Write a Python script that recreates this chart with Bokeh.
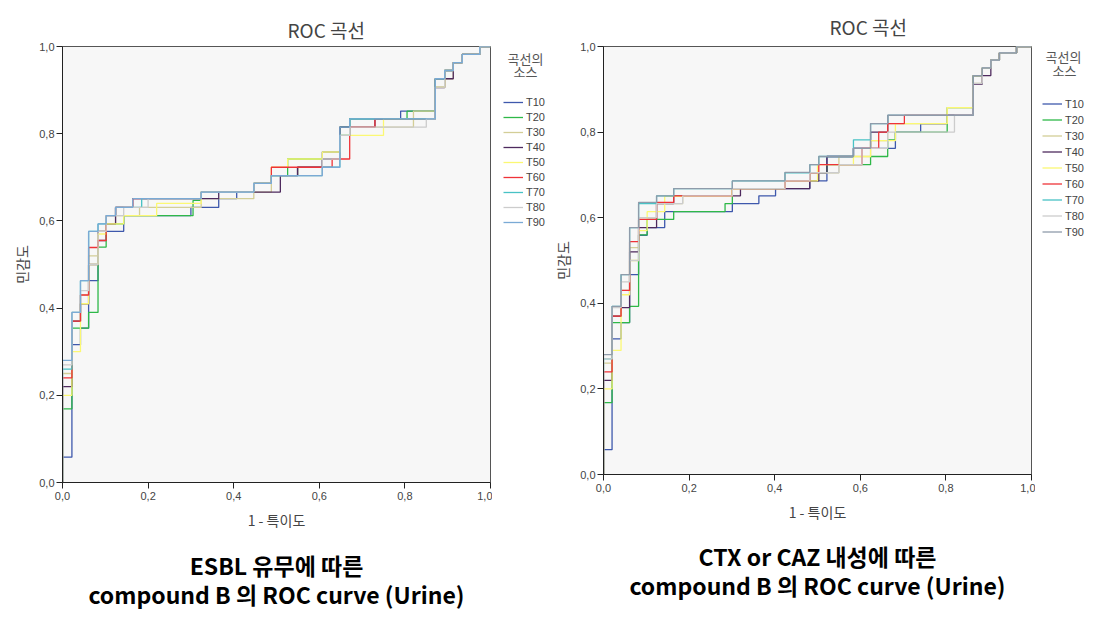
from bokeh.plotting import figure
from bokeh.layouts import row
from bokeh.models import (Legend, LegendItem, FixedTicker, CustomJSTickFormatter, Range1d,
                          LinearAxis, Label)
from bokeh.embed import file_html
from bokeh.resources import INLINE

series_names = ["T10", "T20", "T30", "T40", "T50", "T60", "T70", "T80", "T90"]
tick_values = [0.0, 0.2, 0.4, 0.6, 0.8, 1.0]

colors_left = ["#3E58AC", "#2EB848", "#D3CE97", "#4E2A5E", "#FBF873",
               "#EF3338", "#48C2C5", "#CCCCCC", "#7AAAD5"]
colors_right = ["#3E58AC", "#2EB848", "#D3CE97", "#4E2A5E", "#FBF873",
                "#EF3338", "#48C2C5", "#CCCCCC", "#8E9BAA"]

# ---- Left chart: ESBL (ROC points: fpr, tpr) ----
L_T10_fpr = [0, 0, 0.022, 0.042, 0.061, 0.083, 0.102, 0.143, 0.30, 0.365, 0.407, 0.447, 0.488, 0.55, 0.607, 0.648, 0.671, 0.79, 0.871, 0.893, 0.913, 0.934, 0.975, 1]
L_T10_tpr = [0, 0.058, 0.316, 0.354, 0.463, 0.555, 0.576, 0.612, 0.631, 0.651, 0.666, 0.686, 0.704, 0.723, 0.758, 0.815, 0.834, 0.852, 0.926, 0.945, 0.963, 0.982, 1, 1]
L_T20_fpr = [0, 0, 0.022, 0.061, 0.083, 0.102, 0.143, 0.305, 0.324, 0.447, 0.488, 0.526, 0.648, 0.671, 0.805, 0.871, 0.893, 0.913, 0.934, 0.975, 1]
L_T20_tpr = [0, 0.169, 0.354, 0.39, 0.54, 0.593, 0.612, 0.647, 0.666, 0.686, 0.704, 0.742, 0.815, 0.834, 0.852, 0.926, 0.945, 0.963, 0.982, 1, 1]
L_T30_fpr = [0, 0, 0.022, 0.042, 0.061, 0.083, 0.102, 0.124, 0.18, 0.324, 0.447, 0.488, 0.55, 0.607, 0.648, 0.671, 0.82, 0.871, 0.893, 0.913, 0.934, 0.975, 1]
L_T30_tpr = [0, 0.25, 0.37, 0.43, 0.52, 0.576, 0.593, 0.612, 0.631, 0.651, 0.666, 0.704, 0.723, 0.742, 0.796, 0.815, 0.852, 0.907, 0.926, 0.963, 0.982, 1, 1]
L_T40_fpr = [0, 0, 0.022, 0.042, 0.061, 0.083, 0.102, 0.124, 0.164, 0.365, 0.509, 0.549, 0.607, 0.648, 0.73, 0.871, 0.893, 0.913, 0.934, 0.975, 1]
L_T40_tpr = [0, 0.22, 0.37, 0.41, 0.5, 0.576, 0.593, 0.631, 0.651, 0.666, 0.704, 0.723, 0.742, 0.815, 0.834, 0.906, 0.926, 0.963, 0.982, 1, 1]
L_T50_fpr = [0, 0, 0.022, 0.042, 0.061, 0.083, 0.102, 0.143, 0.22, 0.324, 0.447, 0.488, 0.526, 0.607, 0.648, 0.75, 0.871, 0.893, 0.913, 0.934, 0.975, 1]
L_T50_tpr = [0, 0.20, 0.30, 0.41, 0.50, 0.57, 0.593, 0.612, 0.64, 0.666, 0.686, 0.723, 0.742, 0.758, 0.796, 0.834, 0.907, 0.945, 0.963, 0.982, 1, 1]
L_T60_fpr = [0, 0, 0.022, 0.042, 0.061, 0.083, 0.102, 0.124, 0.164, 0.324, 0.447, 0.488, 0.63, 0.671, 0.73, 0.871, 0.893, 0.913, 0.934, 0.975, 1]
L_T60_tpr = [0, 0.24, 0.37, 0.43, 0.539, 0.555, 0.612, 0.631, 0.651, 0.666, 0.686, 0.723, 0.742, 0.815, 0.834, 0.926, 0.945, 0.963, 0.982, 1, 1]
L_T70_fpr = [0, 0, 0.022, 0.042, 0.061, 0.083, 0.102, 0.124, 0.185, 0.324, 0.447, 0.488, 0.607, 0.648, 0.671, 0.871, 0.893, 0.913, 0.934, 0.975, 1]
L_T70_tpr = [0, 0.26, 0.39, 0.463, 0.576, 0.593, 0.612, 0.631, 0.651, 0.666, 0.686, 0.704, 0.723, 0.796, 0.834, 0.926, 0.945, 0.963, 0.982, 1, 1]
L_T80_fpr = [0, 0, 0.022, 0.042, 0.061, 0.083, 0.102, 0.143, 0.2, 0.324, 0.447, 0.488, 0.607, 0.648, 0.671, 0.85, 0.871, 0.893, 0.913, 0.934, 0.975, 1]
L_T80_tpr = [0, 0.27, 0.39, 0.44, 0.50, 0.576, 0.612, 0.631, 0.651, 0.666, 0.686, 0.704, 0.742, 0.796, 0.815, 0.834, 0.907, 0.945, 0.963, 0.982, 1, 1]
L_T90_fpr = [0, 0, 0.022, 0.042, 0.061, 0.083, 0.102, 0.124, 0.164, 0.324, 0.447, 0.488, 0.607, 0.648, 0.671, 0.871, 0.893, 0.913, 0.934, 0.975, 1]
L_T90_tpr = [0, 0.28, 0.39, 0.463, 0.576, 0.593, 0.612, 0.631, 0.651, 0.666, 0.686, 0.704, 0.723, 0.815, 0.834, 0.926, 0.945, 0.963, 0.982, 1, 1]

# ---- Right chart: CTX or CAZ ----
R_T10_fpr = [0, 0, 0.02, 0.041, 0.061, 0.082, 0.102, 0.143, 0.301, 0.363, 0.402, 0.482, 0.522, 0.584, 0.682, 0.741, 0.803, 0.864, 0.885, 0.905, 0.925, 0.965, 1]
R_T10_tpr = [0, 0.058, 0.317, 0.355, 0.467, 0.559, 0.577, 0.614, 0.633, 0.651, 0.668, 0.686, 0.743, 0.762, 0.80, 0.819, 0.839, 0.932, 0.95, 0.968, 0.985, 1, 1]
R_T20_fpr = [0, 0, 0.02, 0.061, 0.082, 0.102, 0.164, 0.284, 0.301, 0.424, 0.482, 0.522, 0.624, 0.664, 0.682, 0.803, 0.864, 0.885, 0.905, 0.925, 0.965, 1]
R_T20_tpr = [0, 0.168, 0.355, 0.393, 0.56, 0.596, 0.614, 0.633, 0.668, 0.686, 0.705, 0.724, 0.743, 0.782, 0.80, 0.857, 0.932, 0.95, 0.968, 0.985, 1, 1]
R_T30_fpr = [0, 0, 0.02, 0.041, 0.061, 0.082, 0.124, 0.185, 0.301, 0.424, 0.482, 0.55, 0.624, 0.664, 0.803, 0.864, 0.885, 0.905, 0.925, 0.965, 1]
R_T30_tpr = [0, 0.26, 0.37, 0.43, 0.53, 0.596, 0.633, 0.651, 0.668, 0.686, 0.705, 0.743, 0.78, 0.82, 0.857, 0.914, 0.95, 0.968, 0.985, 1, 1]
R_T40_fpr = [0, 0, 0.02, 0.041, 0.061, 0.082, 0.124, 0.164, 0.32, 0.482, 0.503, 0.522, 0.584, 0.624, 0.664, 0.864, 0.885, 0.905, 0.925, 0.965, 1]
R_T40_tpr = [0, 0.22, 0.37, 0.39, 0.52, 0.577, 0.633, 0.651, 0.668, 0.686, 0.705, 0.743, 0.762, 0.80, 0.839, 0.912, 0.932, 0.968, 0.985, 1, 1]
R_T50_fpr = [0, 0, 0.02, 0.041, 0.061, 0.082, 0.102, 0.143, 0.30, 0.424, 0.50, 0.584, 0.624, 0.682, 0.803, 0.864, 0.885, 0.905, 0.925, 0.965, 1]
R_T50_tpr = [0, 0.20, 0.29, 0.42, 0.50, 0.57, 0.614, 0.65, 0.668, 0.686, 0.724, 0.743, 0.78, 0.82, 0.857, 0.932, 0.95, 0.968, 0.985, 1, 1]
R_T60_fpr = [0, 0, 0.02, 0.041, 0.061, 0.082, 0.124, 0.164, 0.301, 0.424, 0.482, 0.503, 0.604, 0.643, 0.664, 0.703, 0.864, 0.885, 0.905, 0.925, 0.965, 1]
R_T60_tpr = [0, 0.24, 0.37, 0.43, 0.544, 0.596, 0.636, 0.651, 0.668, 0.686, 0.705, 0.724, 0.762, 0.80, 0.82, 0.839, 0.932, 0.95, 0.968, 0.985, 1, 1]
R_T70_fpr = [0, 0, 0.02, 0.041, 0.061, 0.082, 0.124, 0.164, 0.301, 0.424, 0.482, 0.503, 0.584, 0.624, 0.664, 0.864, 0.885, 0.905, 0.925, 0.965, 1]
R_T70_tpr = [0, 0.27, 0.393, 0.467, 0.577, 0.633, 0.651, 0.668, 0.686, 0.705, 0.724, 0.743, 0.782, 0.82, 0.839, 0.932, 0.95, 0.968, 0.985, 1, 1]
R_T80_fpr = [0, 0, 0.02, 0.041, 0.061, 0.082, 0.124, 0.185, 0.301, 0.424, 0.482, 0.55, 0.604, 0.664, 0.82, 0.864, 0.885, 0.905, 0.925, 0.965, 1]
R_T80_tpr = [0, 0.27, 0.39, 0.45, 0.50, 0.60, 0.633, 0.651, 0.668, 0.686, 0.705, 0.724, 0.762, 0.80, 0.839, 0.914, 0.95, 0.968, 0.985, 1, 1]
R_T90_fpr = [0, 0, 0.02, 0.041, 0.061, 0.082, 0.124, 0.164, 0.301, 0.424, 0.482, 0.503, 0.584, 0.624, 0.664, 0.864, 0.885, 0.905, 0.925, 0.965, 1]
R_T90_tpr = [0, 0.28, 0.393, 0.467, 0.577, 0.636, 0.651, 0.668, 0.686, 0.706, 0.724, 0.743, 0.762, 0.82, 0.839, 0.932, 0.95, 0.968, 0.985, 1, 1]

left_series = [(L_T10_fpr, L_T10_tpr), (L_T20_fpr, L_T20_tpr), (L_T30_fpr, L_T30_tpr),
               (L_T40_fpr, L_T40_tpr), (L_T50_fpr, L_T50_tpr), (L_T60_fpr, L_T60_tpr),
               (L_T70_fpr, L_T70_tpr), (L_T80_fpr, L_T80_tpr), (L_T90_fpr, L_T90_tpr)]
right_series = [(R_T10_fpr, R_T10_tpr), (R_T20_fpr, R_T20_tpr), (R_T30_fpr, R_T30_tpr),
                (R_T40_fpr, R_T40_tpr), (R_T50_fpr, R_T50_tpr), (R_T60_fpr, R_T60_tpr),
                (R_T70_fpr, R_T70_tpr), (R_T80_fpr, R_T80_tpr), (R_T90_fpr, R_T90_tpr)]

KFONT = "Noto Sans CJK KR"
TFONT = "Liberation Sans"
FIG_H = 612
LEG_FRAME_BOTTOM = 475  # observed bottom edge of the legend panels' frame


def make_chart(series, colors, caption, fh, b_left, b_right, b_top, b_bottom,
               title_offset, title_standoff, cap_standoff):
    p = figure(frame_width=428, frame_height=fh, x_range=Range1d(0, 1), y_range=Range1d(0, 1),
               output_backend="svg", toolbar_location=None,
               min_border_left=b_left, min_border_right=b_right,
               min_border_top=b_top, min_border_bottom=b_bottom)
    p.background_fill_color = "#f7f7f7"
    p.border_fill_color = "white"
    p.outline_line_color = "#555555"
    p.outline_line_width = 1
    p.grid.visible = False

    p.title.text = "ROC 곡선"
    p.title.align = "left"
    p.title.offset = title_offset
    p.title.standoff = title_standoff
    p.title.text_font = KFONT
    p.title.text_font_size = "19px"
    p.title.text_font_style = "normal"
    p.title.text_color = "#444444"

    for ax, lab in ((p.xaxis[0], "1 - 특이도"), (p.yaxis[0], "민감도")):
        ax.ticker = FixedTicker(ticks=tick_values)
        ax.formatter = CustomJSTickFormatter(code="return tick.toFixed(1).replace('.', ',');")
        ax.major_tick_out = 6
        ax.major_tick_in = 0
        ax.minor_tick_line_color = None
        ax.axis_line_color = "#222222"
        ax.major_tick_line_color = "#222222"
        ax.major_label_text_font = TFONT
        ax.major_label_text_font_size = "11px"
        ax.major_label_text_color = "#444444"
        ax.axis_label = lab
        ax.axis_label_text_font = KFONT
        ax.axis_label_text_font_size = "14px"
        ax.axis_label_text_font_style = "normal"
        ax.axis_label_text_color = "#444444"
    p.xaxis[0].major_label_standoff = 3
    p.yaxis[0].major_label_standoff = 2
    p.xaxis[0].axis_label_standoff = 7
    p.yaxis[0].axis_label_standoff = 4

    for (fx, ty), c in zip(series, colors):
        p.step(fx, ty, mode="after", line_color=c, line_width=1.3)

    cap = LinearAxis(ticker=FixedTicker(ticks=[]), axis_line_color=None,
                     major_tick_line_color=None, minor_tick_line_color=None,
                     major_tick_out=0, major_label_text_font_size="0px",
                     axis_label=caption, axis_label_standoff=cap_standoff,
                     axis_label_text_font=KFONT, axis_label_text_font_size="23px",
                     axis_label_text_font_style="bold", axis_label_text_color="black",
                     axis_label_text_line_height=0.86)
    p.add_layout(cap, "below")
    return p


def make_legend(series, colors, width, leg_x, leg_bottom, item_h, t1_pos, t2_pos):
    lf = figure(width=width, height=FIG_H, x_range=Range1d(0, 1), y_range=Range1d(0, 1),
                x_axis_type=None, y_axis_type=None, output_backend="svg",
                toolbar_location=None, min_border_left=0, min_border_top=0,
                min_border_right=0, min_border_bottom=0)
    lf.outline_line_color = None
    lf.background_fill_color = "white"
    lf.border_fill_color = "white"
    items = []
    for name, (fx, ty), c in zip(series_names, series, colors):
        # single-point line: nothing visible in this panel, only serves the legend swatch
        r = lf.line(x=fx[:1], y=ty[:1], line_color=c, line_width=1.3)
        items.append(LegendItem(label=name, renderers=[r]))
    leg = Legend(items=items, location=(leg_x, LEG_FRAME_BOTTOM - leg_bottom),
                 label_text_font=TFONT, label_text_font_size="11px", label_text_color="#444444",
                 glyph_width=20, glyph_height=item_h, label_height=item_h, label_standoff=3,
                 spacing=3, padding=2, margin=0, border_line_color=None,
                 background_fill_alpha=0)
    lf.add_layout(leg, "center")
    for txt, (tx, ty) in (("곡선의", t1_pos), ("소스", t2_pos)):
        lf.add_layout(Label(x=tx, y=LEG_FRAME_BOTTOM - ty, x_units="screen", y_units="screen",
                            text=txt, text_align="center", text_baseline="middle",
                            text_font=KFONT, text_font_size="13px", text_color="#555555"))
    return lf


left = make_chart(left_series, colors_left, "ESBL 유무에 따른\ncompound B 의 ROC curve (Urine)",
                  436, 62, 2, 46, 130, 225, 8, 15)
left_leg = make_legend(left_series, colors_left, 57, 11, 230, 12, (33, 60), (33, 73))
right = make_chart(right_series, colors_right, "CTX or CAZ 내성에 따른\ncompound B 의 ROC curve (Urine)",
                   428, 54, 4, 45, 139, 226, 14, 14)
right_leg = make_legend(right_series, colors_right, 65, 7, 240, 13, (28, 58), (29, 72))

layout = row(left, left_leg, right, right_leg)
open("out.html", "w").write(file_html(layout, INLINE))
